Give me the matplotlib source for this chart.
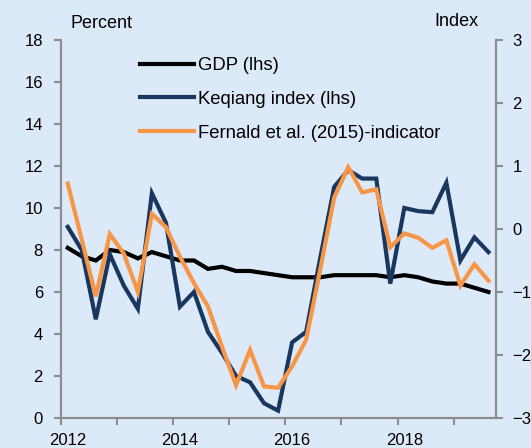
import numpy as np
import matplotlib.pyplot as plt

plt.rcParams['font.family'] = ['Liberation Sans', 'DejaVu Sans']

# quarterly data, 2012Q1 - 2019Q3
start_year = 2012
n_q = 31
gdp = [8.1, 7.7, 7.5, 8.0, 7.9, 7.6, 7.9, 7.7, 7.5, 7.5, 7.1, 7.2, 7.0, 7.0, 6.9, 6.8,
       6.7, 6.7, 6.7, 6.8, 6.8, 6.8, 6.8, 6.7, 6.8, 6.7, 6.5, 6.4, 6.4, 6.2, 6.0]
keqiang = [9.1, 8.0, 4.7, 7.8, 6.3, 5.2, 10.7, 9.3, 5.3, 6.0, 4.1, 3.1, 2.0, 1.7, 0.7, 0.35,
           3.6, 4.1, 7.6, 11.0, 11.8, 11.4, 11.4, 6.4, 10.0, 9.85, 9.8, 11.2, 7.5, 8.6, 7.9]
fernald = [0.72, -0.17, -1.07, -0.08, -0.39, -1.0, 0.24, 0.03, -0.44, -0.86, -1.23, -1.87,
           -2.48, -1.92, -2.5, -2.52, -2.18, -1.76, -0.65, 0.5, 0.98, 0.58, 0.63, -0.29,
           -0.07, -0.14, -0.3, -0.18, -0.9, -0.56, -0.82]
year_labels = ['2012', '2014', '2016', '2018']

bg = '#DCE9F8'
grey = '#8C8C8C'
navy = '#17375E'
orange = '#F79646'

x = start_year + 0.12 + np.arange(n_q) / 4

fig = plt.figure(figsize=(5.31, 4.48), dpi=100, facecolor=bg)
ax = fig.add_axes([0.1149, 0.067, 0.8191, 0.8438])
ax.set_facecolor(bg)
ax2 = ax.twinx()
ax2.patch.set_visible(False)

l1, = ax.plot(x, gdp, color='black', lw=3, label='GDP (lhs)', solid_joinstyle='miter')
l2, = ax.plot(x, keqiang, color=navy, lw=3, label='Keqiang index (lhs)', solid_joinstyle='miter')
l3, = ax2.plot(x, fernald, color=orange, lw=3, label='Fernald et al. (2015)-indicator', solid_joinstyle='miter')

ax.set_xlim(2012, 2019.754)
ax.set_ylim(0, 18)
ax2.set_ylim(-3, 3)
ax.set_yticks(np.arange(0, 19, 2))
ax2.set_yticks(np.arange(-3, 4, 1))

# year ticks at boundaries, labels next to first quarter point
ax.set_xticks(np.arange(2012, 2020))
ax.set_xticklabels([])
ax.set_xticks([int(y) + 0.12 for y in year_labels], minor=True)
ax.set_xticklabels(year_labels, minor=True)
ax.tick_params(axis='x', which='minor', length=0, pad=10.5, labelsize=12)
ax.tick_params(axis='x', which='major', length=5, width=1.5, color=grey, direction='out')
ax.tick_params(axis='y', length=5, width=1.5, color=grey, direction='out', pad=8, labelsize=12)
ax2.tick_params(axis='y', length=5, width=1.5, color=grey, direction='out', pad=7, labelsize=12)

for a in (ax, ax2):
    a.spines['top'].set_visible(False)
    for s in ('left', 'right', 'bottom'):
        a.spines[s].set_color(grey)
        a.spines[s].set_linewidth(1.5)

fig.text(71 / 531, 1 - 23 / 448, 'Percent', fontsize=13, va='center', ha='left')
fig.text(479 / 531, 1 - 21 / 448, 'Index', fontsize=13, va='center', ha='right')

fig.legend(handles=[l1, l2, l3], loc='upper left', bbox_to_anchor=(140 / 531, 1 - 57 / 448),
           frameon=False, fontsize=13.3, handlelength=2.92, handletextpad=0.22,
           labelspacing=0.91, borderaxespad=0, borderpad=0)

fig.savefig('out.png', dpi=100, facecolor=bg)
